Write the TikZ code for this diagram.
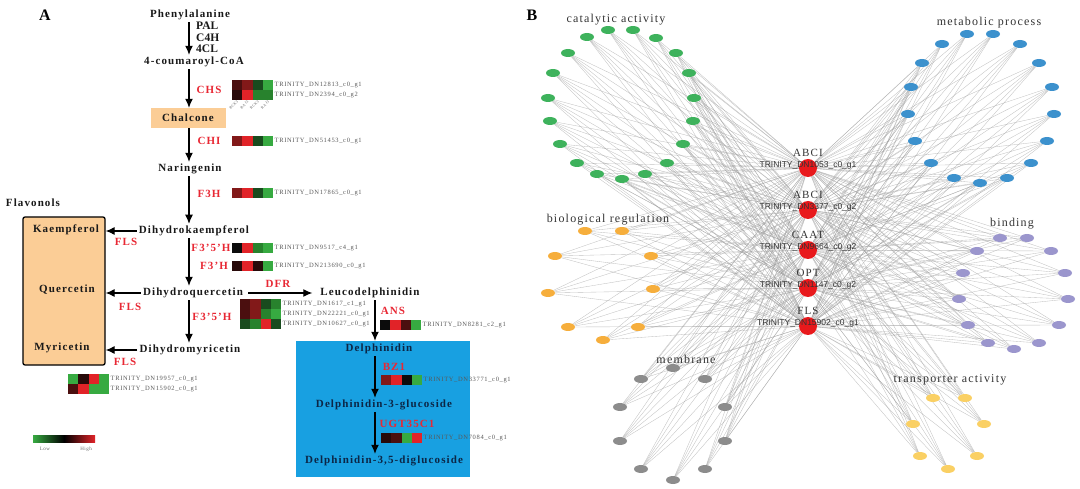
\documentclass[tikz,border=0pt]{standalone}
\usepackage{fontspec}
\setmainfont{Liberation Serif}
\setsansfont{Liberation Sans}
\newfontfamily\pathfont[LetterSpace=10]{Liberation Serif}
\usetikzlibrary{arrows.meta,backgrounds,shapes.geometric}
\definecolor{enz}{RGB}{232,40,52}
\definecolor{boxorange}{RGB}{251,205,150}
\definecolor{boxblue}{RGB}{24,160,225}
\definecolor{navy}{RGB}{12,38,70}
\definecolor{hR}{RGB}{225,35,40}
\definecolor{hr}{RGB}{130,25,25}
\definecolor{hdd}{RGB}{75,15,15}
\definecolor{hd}{RGB}{40,10,10}
\definecolor{hk}{RGB}{12,12,12}
\definecolor{hG}{RGB}{25,75,30}
\definecolor{hm}{RGB}{40,130,45}
\definecolor{hg}{RGB}{55,170,65}
\definecolor{catc}{RGB}{62,178,92}
\definecolor{metc}{RGB}{60,145,205}
\definecolor{bioc}{RGB}{246,174,60}
\definecolor{memc}{RGB}{140,140,140}
\definecolor{binc}{RGB}{155,150,205}
\definecolor{trac}{RGB}{250,208,100}
\definecolor{hubc}{RGB}{232,25,28}
% one heatmap row: name, top left corner, colours, gene
\newcommand{\hmrow}[4]{%
  \coordinate (#1) at (#2);
  \foreach \c [count=\k from 0] in {#3}
    \fill[fill=\c] ([xshift={10.3*\k}]#1) rectangle ++(10.3,10);
  \node[hmlab] (#1-lab) at ([xshift=42pt,yshift=-5pt]#1) {#4};
}
\begin{document}
\begin{tikzpicture}[x=1pt,y=-1pt,
  cpd/.style={font=\pathfont\bfseries\fontsize{11}{12}\selectfont,text=black!90,inner sep=2pt},
  enzy/.style={font=\pathfont\bfseries\fontsize{11}{12}\selectfont,text=enz,inner sep=1pt},
  hmlab/.style={anchor=west,inner sep=0.5pt,font=\pathfont\fontsize{6.5}{7}\selectfont,text=black!65},
  arr/.style={line width=1.1pt,-{Latex[length=9pt,width=8pt]}},
  goterm/.style={font=\pathfont\fontsize{12}{13}\selectfont,text=black!80},
  small/.style={ellipse,minimum width=14pt,minimum height=8pt,inner sep=0pt},
  hub/.style={circle,fill=hubc,minimum size=18pt,inner sep=0pt},
  edge/.style={draw=black!40,line width=0.35pt,opacity=0.6}]
\useasboundingbox (0,0) rectangle (1080,489);
\node[font=\bfseries\fontsize{16}{16}\selectfont] (pa) at (45,15) {A};
\node[font=\bfseries\fontsize{16}{16}\selectfont] (pb) at (532,15) {B};
% boxes
\node[fill=boxorange,draw=black,line width=1.3pt,rounded corners=2pt,minimum width=82pt,minimum height=148pt] (flav) at (64,291) {};
\node[fill=boxblue,minimum width=174pt,minimum height=136pt] (bbox) at (383,409) {};
\coordinate (ax) at (189,0);
\coordinate (bx) at (375,0);
% compounds
\node[cpd] (phe) at (190,15) {Phenylalanine};
\node[cpd] (cou) at (194,62) {4-coumaroyl-CoA};
\node[cpd,fill=boxorange,minimum width=75pt,minimum height=20pt] (chal) at (188,118) {Chalcone};
\node[cpd] (nar) at (190,169) {Naringenin};
\node[cpd] (dhk) at (194,231) {Dihydrokaempferol};
\node[cpd] (dhq) at (193,293) {Dihydroquercetin};
\node[cpd] (dhm) at (190,350) {Dihydromyricetin};
\node[cpd] (leu) at (370,293) {Leucodelphinidin};
\node[cpd,text=navy] (del) at (379,349) {Delphinidin};
\node[cpd,text=navy] (dtg) at (384,405) {Delphinidin-3-glucoside};
\node[cpd,text=navy] (ddg) at (384,461) {Delphinidin-3,5-diglucoside};
\node[cpd] (flavlab) at (33,203) {Flavonols};
\node[cpd] (kae) at (66,230) {Kaempferol};
\node[cpd] (que) at (67,290) {Quercetin};
\node[cpd] (myr) at (62,348) {Myricetin};
% arrows
\draw[arr] (phe.south -| ax) -- (cou.north -| ax);
\draw[arr] (cou.south -| ax) -- (chal.north -| ax);
\draw[arr] (chal.south -| ax) -- (nar.north -| ax);
\draw[arr] (nar.south -| ax) -- (dhk.north -| ax);
\draw[arr] (dhk.south -| ax) -- (dhq.north -| ax);
\draw[arr] (dhq.south -| ax) -- (dhm.north -| ax);
\draw[arr] (dhk.west) -- (dhk.west -| flav.east);
\draw[arr] (dhq.west) -- (dhq.west -| flav.east);
\draw[arr] (dhm.west) -- (dhm.west -| flav.east);
\draw[arr,shorten <=3pt,shorten >=6pt] (dhq.east) -- (leu.west);
\draw[arr] (leu.south -| bx) -- (bbox.north -| bx);
\draw[arr] (del.south -| bx) -- (dtg.north -| bx);
\draw[arr] (dtg.south -| bx) -- (ddg.north -| bx);
% enzymes
\node[anchor=north west,align=left,font=\bfseries\fontsize{11.5}{11.5}\selectfont,inner sep=0pt,text=black!90] (pal) at (196,22) {PAL\\C4H\\4CL};
\node[enzy] (chs) at (209,90) {CHS};
\node[enzy] (chi) at (209,141) {CHI};
\node[enzy] (fth) at (209,194) {F3H};
\node[enzy] (ffh) at (211,248) {F3’5’H};
\node[enzy] (fh) at (214,266) {F3’H};
\node[enzy] (ffhb) at (212,317) {F3’5’H};
\node[enzy] (dfr) at (278,284) {DFR};
\node[enzy] (ans) at (393,311) {ANS};
\node[enzy] (bz) at (394,367) {BZ1};
\node[enzy] (ugt) at (407,424) {UGT35C1};
\node[enzy] (flsa) at (126,242) {FLS};
\node[enzy] (flsb) at (130,307) {FLS};
\node[enzy] (flsc) at (125,362) {FLS};
% heatmaps
\hmrow{chs1}{232,80}{hdd,hr,hG,hg}{TRINITY\_DN12813\_c0\_g1}
\hmrow{chs2}{232,90}{hd,hR,hm,hm}{TRINITY\_DN2394\_c0\_g2}
\foreach \s [count=\k from 0] in {BCK3,BAJ3,RCK3,RAJ3}
  \node[anchor=east,rotate=45,inner sep=0.3pt,font=\pathfont\fontsize{3.8}{4}\selectfont,text=black!60] (col\k) at (238+10.3*\k,101) {\s};
\hmrow{chi1}{232,136}{hr,hR,hG,hg}{TRINITY\_DN51453\_c0\_g1}
\hmrow{fth1}{232,188}{hr,hR,hG,hg}{TRINITY\_DN17865\_c0\_g1}
\hmrow{ffh1}{232,243}{hk,hR,hm,hg}{TRINITY\_DN9517\_c4\_g1}
\hmrow{fh1}{232,261}{hd,hR,hd,hg}{TRINITY\_DN213690\_c0\_g1}
\hmrow{dfr1}{240,299}{hdd,hr,hG,hm}{TRINITY\_DN1617\_c1\_g1}
\hmrow{dfr2}{240,309}{hdd,hr,hm,hg}{TRINITY\_DN22221\_c0\_g1}
\hmrow{dfr3}{240,319}{hG,hm,hR,hG}{TRINITY\_DN10627\_c0\_g1}
\hmrow{ans1}{380,320}{hk,hR,hdd,hg}{TRINITY\_DN8281\_c2\_g1}
\hmrow{bz1}{381,375}{hr,hR,hk,hg}{TRINITY\_DN33771\_c0\_g1}
\hmrow{ugt1}{381,433}{hd,hdd,hg,hR}{TRINITY\_DN7084\_c0\_g1}
\hmrow{fls1}{68,374}{hg,hd,hR,hg}{TRINITY\_DN19957\_c0\_g1}
\hmrow{fls2}{68,384}{hdd,hR,hg,hg}{TRINITY\_DN15902\_c0\_g1}
% legend
\shade[left color=hg,right color=hR,middle color=black] (33,435) rectangle (95,442);
\node[font=\pathfont\fontsize{5}{5}\selectfont,text=black!60] (low) at (45,449) {Low};
\node[font=\pathfont\fontsize{5}{5}\selectfont,text=black!60] (high) at (86,449) {High};
% network
\node[hub] (h1) at (808,168) {};
\node[hub] (h2) at (808,210) {};
\node[hub] (h3) at (808,250) {};
\node[hub] (h4) at (808,288) {};
\node[hub] (h5) at (808,326) {};
\foreach \p [count=\i] in {{587,37},{608,30},{633,30},{656,38},{568,53},{676,53},{553,73},{689,73},{548,98},{694,98},{550,121},{693,121},{560,144},{683,144},{577,163},{667,163},{597,174},{622,179},{645,174}}
  \node[small,fill=catc] (cat\i) at (\p) {};
\foreach \p [count=\i] in {{967,34},{993,34},{942,44},{1020,44},{922,63},{1039,63},{911,87},{1052,87},{908,114},{1054,114},{915,141},{1047,141},{931,163},{1031,163},{954,178},{980,183},{1007,178}}
  \node[small,fill=metc] (met\i) at (\p) {};
\foreach \p [count=\i] in {{585,231},{622,231},{555,256},{651,256},{548,293},{653,289},{568,327},{638,327},{603,340}}
  \node[small,fill=bioc] (bio\i) at (\p) {};
\foreach \p [count=\i] in {{673,368},{641,379},{705,379},{620,407},{725,407},{620,441},{725,441},{641,469},{705,469},{673,480}}
  \node[small,fill=memc] (mem\i) at (\p) {};
\foreach \p [count=\i] in {{1000,238},{1027,238},{977,251},{1051,251},{963,273},{1065,273},{959,299},{1068,299},{968,325},{1059,325},{988,343},{1014,349},{1039,343}}
  \node[small,fill=binc] (bin\i) at (\p) {};
\foreach \p [count=\i] in {{933,398},{965,398},{913,424},{984,424},{920,456},{977,456},{948,469}}
  \node[small,fill=trac] (tra\i) at (\p) {};
\begin{pgfonlayer}{background}
\foreach \g/\m in {cat/19,met/17,bio/9,mem/10,bin/13,tra/7}
  \foreach \i in {1,...,\m}
    \foreach \h in {1,...,5}
      \draw[edge] (\g\i) -- (h\h);
\end{pgfonlayer}
\foreach \h/\a/\b in {1/ABCI/TRINITY\_DN1053\_c0\_g1,2/ABCI/TRINITY\_DN3377\_c0\_g2,3/CAAT/TRINITY\_DN9664\_c0\_g2,4/OPT/TRINITY\_DN1147\_c0\_g2,5/FLS/TRINITY\_DN15902\_c0\_g1}{
  \node[font=\pathfont\fontsize{11}{11}\selectfont,text=black!80,inner sep=0pt] (hn\h) at ([yshift=15pt]h\h) {\a};
  \node[font=\sffamily\fontsize{8.5}{9}\selectfont,text=black!80,inner sep=0pt] (hi\h) at ([yshift=3pt]h\h) {\b};
}
\node[goterm] (gcat) at (616,20) {catalytic activity};
\node[goterm] (gmet) at (989,23) {metabolic process};
\node[goterm] (gbio) at (608,220) {biological regulation};
\node[goterm] (gbin) at (1012,224) {binding};
\node[goterm] (gmem) at (686,359) {membrane};
\node[goterm] (gtra) at (950,380) {transporter activity};
\end{tikzpicture}
\end{document}
